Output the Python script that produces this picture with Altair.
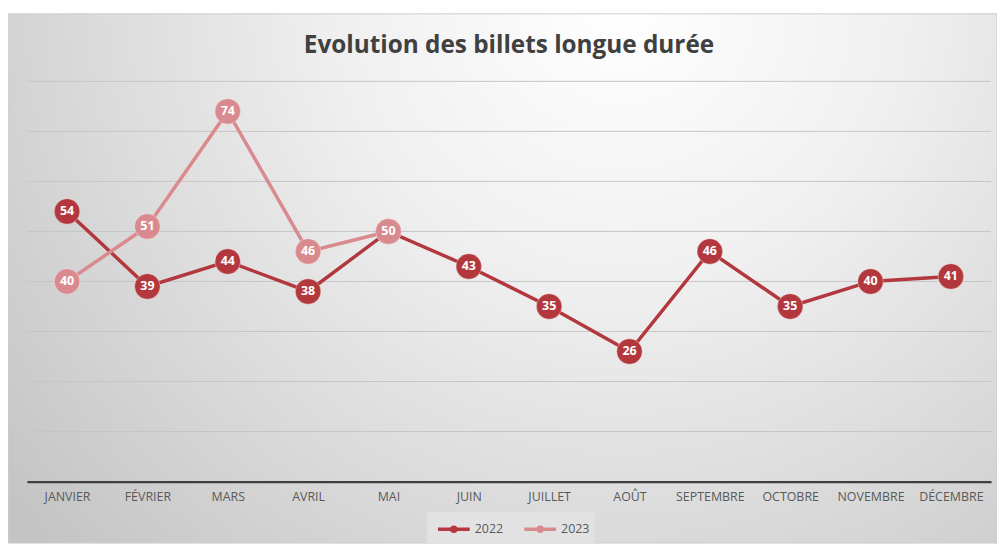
import altair as alt
import pandas as pd

months = ["JANVIER", "FÉVRIER", "MARS", "AVRIL", "MAI", "JUIN",
          "JUILLET", "AOÛT", "SEPTEMBRE", "OCTOBRE", "NOVEMBRE", "DÉCEMBRE"]
values_2022 = [54, 39, 44, 38, 50, 43, 35, 26, 46, 35, 40, 41]
values_2023 = [40, 51, 74, 46, 50]
years = ["2022", "2023"]
colors = ["#b3383d", "#d98a8e"]
grid_values = [10, 20, 30, 40, 50, 60, 70, 80]
title_text = "Evolution des billets longue durée"

rows = []
for m, v in zip(months, values_2022):
    rows.append({"mois": m, "valeur": v, "annee": "2022"})
for m, v in zip(months, values_2023):
    rows.append({"mois": m, "valeur": v, "annee": "2023"})
df = pd.DataFrame(rows)

W, H = 971, 403
PAD = {"left": 19, "top": 72, "right": 6, "bottom": 62}

x_enc = alt.X("mois:N", sort=months, title=None,
              scale=alt.Scale(type="point", padding=0.5),
              axis=alt.Axis(labelAngle=0, ticks=False, domainColor="#3f3f3f",
                            domainWidth=2.2, labelColor="#595959", labelFont="Open Sans",
                            labelFontSize=12.5, labelPadding=9, grid=False, zindex=1))
y_scale = alt.Scale(domain=[0, 80], nice=False, zero=True)
y_enc = alt.Y("valeur:Q", title=None, scale=y_scale, axis=None)
color_scale = alt.Scale(domain=years, range=colors)
color_enc = alt.Color("annee:N", title=None, scale=color_scale,
                      legend=alt.Legend(orient="none", legendX=403, legendY=434,
                                        direction="horizontal",
                                        symbolType="M-1.6,0H1.6M-0.2,0A0.2,0.2 0 1,0 0.2,0A0.2,0.2 0 1,0 -0.2,0",
                                        symbolSize=400,
                                        symbolStrokeWidth=3.5,
                                        labelColor="#595959", labelFont="Open Sans",
                                        labelFontSize=12.5, labelOffset=9, columnPadding=14,
                                        fillColor="#e2e2e2", padding=5, symbolOffset=10))

bg = alt.Chart(pd.DataFrame({"a": [0]})).mark_rect(
    fill={"gradient": "radial", "x1": 0.62, "y1": 0.22, "r1": 0,
          "x2": 0.62, "y2": 0.22, "r2": 0.8,
          "stops": [{"offset": 0, "color": "#ffffff"},
                    {"offset": 0.35, "color": "#f0f0f0"},
                    {"offset": 1, "color": "#c4c4c4"}]},
    stroke="#cfcfcf", strokeWidth=1
).encode(x=alt.value(-19), x2=alt.value(W + 6), y=alt.value(-68), y2=alt.value(H + 62))

grid = alt.Chart(pd.DataFrame({"g": grid_values})).mark_rule(
    color="#c6c6c6", strokeWidth=1
).encode(y=alt.Y("g:Q", scale=y_scale, axis=None), x=alt.value(0), x2=alt.value(W))

title = alt.Chart(pd.DataFrame({"t": [title_text]})).mark_text(
    font="Open Sans", fontSize=24.5, fontWeight="bold", color="#404040",
    align="center", baseline="middle"
).encode(text="t:N", x=alt.value(W / 2), y=alt.value(-36))

layers = [bg, grid, title]
for yr in years:
    base = alt.Chart(df).transform_filter(alt.datum.annee == yr)
    line = base.mark_line(strokeWidth=3.5).encode(x=x_enc, y=y_enc, color=color_enc)
    pts = base.mark_circle(size=660, opacity=1, stroke="#ffffff",
                           strokeOpacity=0.35, strokeWidth=1).encode(
        x=x_enc, y=y_enc, color=alt.Color("annee:N", scale=color_scale, legend=None))
    txt = base.mark_text(color="white", font="Open Sans", fontWeight="bold",
                         fontSize=12.5, baseline="middle", align="center").encode(
        x=x_enc, y=y_enc, text="valeur:Q")
    layers += [line, pts, txt]

chart = alt.layer(*layers).properties(
    width=W, height=H,
    padding=PAD,
    autosize=alt.AutoSizeParams(type="none"),
).configure_view(stroke=None).configure(background="white")

chart.save("out.html", embed_options={"renderer": "svg", "actions": False})
